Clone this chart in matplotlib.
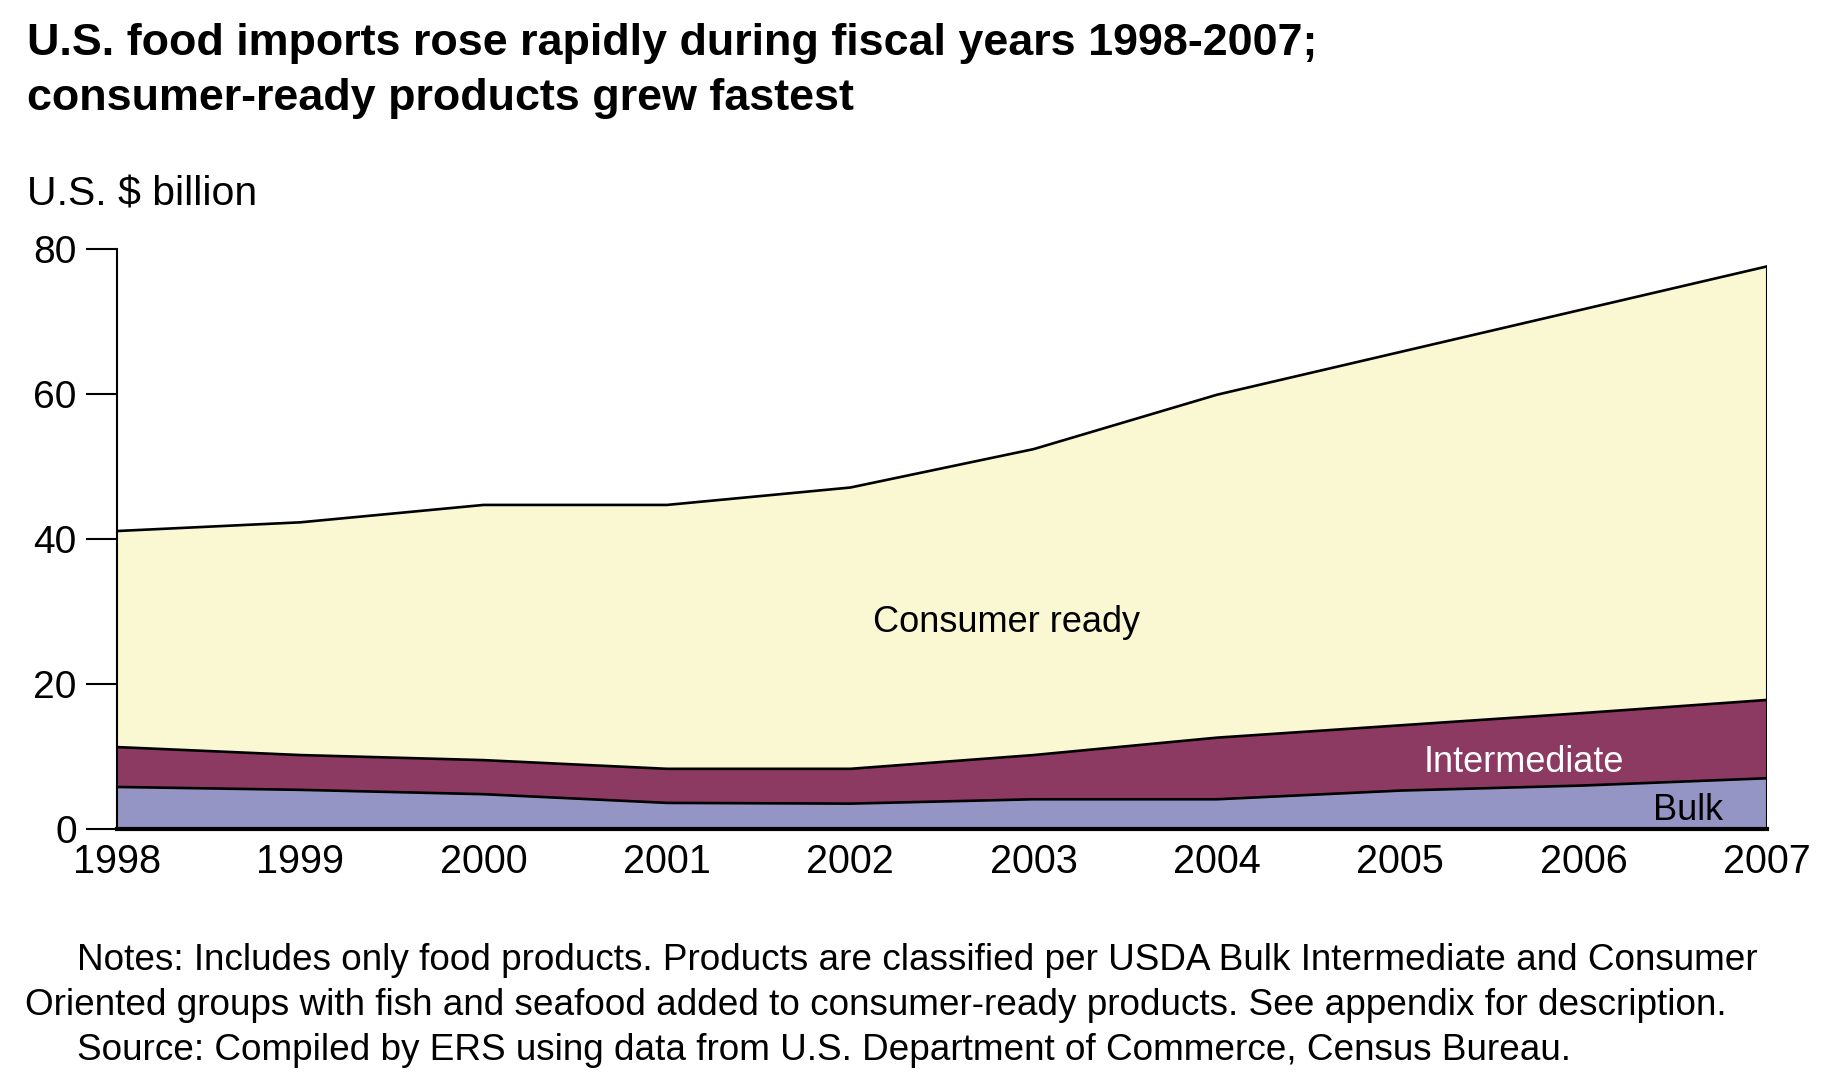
import numpy as np
import matplotlib
matplotlib.use("Agg")
import matplotlib.pyplot as plt

plt.rcParams['font.family'] = ['Liberation Sans', 'DejaVu Sans']

years = [1998, 1999, 2000, 2001, 2002, 2003, 2004, 2005, 2006, 2007]
bulk = [5.8, 5.4, 4.8, 3.6, 3.5, 4.1, 4.1, 5.3, 6.0, 7.0]
intermediate = [5.5, 4.8, 4.7, 4.7, 4.8, 6.1, 8.5, 9.0, 10.0, 10.8]
consumer_ready = [29.8, 32.1, 35.2, 36.4, 38.8, 42.2, 47.3, 51.5, 55.7, 59.8]
series_names = ["Bulk", "Intermediate", "Consumer ready"]
colors = ["#9595C5", "#8C3A62", "#FAF8D2"]
yticks = [0, 20, 40, 60, 80]

title_lines = ["U.S. food imports rose rapidly during fiscal years 1998-2007;",
               "consumer-ready products grew fastest"]
ylabel = "U.S. $ billion"
notes = ["Notes: Includes only food products. Products are classified per USDA Bulk Intermediate and Consumer",
         "Oriented groups with fish and seafood added to consumer-ready products. See appendix for description.",
         "Source: Compiled by ERS using data from U.S. Department of Commerce, Census Bureau."]

W, H = 1832, 1084
fig = plt.figure(figsize=(W / 100, H / 100), dpi=100)
ax = fig.add_axes([117 / W, 1 - 829 / H, (1767 - 117) / W, (829 - 249) / H])

x = np.array(years)
stack = np.vstack([bulk, intermediate, consumer_ready])
ax.stackplot(x, stack, colors=colors, linewidth=0)
cum = np.cumsum(stack, axis=0)
for row in cum:
    ax.plot(x, row, color="black", lw=1.9, solid_joinstyle="round", zorder=3)
ax.vlines(x[-1], 0, cum[-1][-1], color="black", lw=1.5, zorder=3)

ax.set_xlim(years[0], years[-1])
ax.set_ylim(0, 80)
for s in ["top", "right"]:
    ax.spines[s].set_visible(False)
ax.spines["left"].set_linewidth(1.5)
ax.spines["bottom"].set_linewidth(3)
ax.spines["bottom"].set_zorder(4)

ax.set_yticks(yticks)
ax.set_yticklabels([str(v) for v in yticks])
ax.tick_params(axis="y", direction="out", length=22, width=1.5, pad=7,
               labelsize=28, colors="black")
ax.set_xticks(years)
ax.set_xticklabels([str(y) for y in years])
ax.tick_params(axis="x", which="major", length=0, pad=10, labelsize=28.5)
ax.set_xticks(years[1:-1], minor=True)
ax.tick_params(axis="x", which="minor", direction="in", length=21.5,
               width=1.5, color="white")

# series labels
ax.text(2002.85, 27.2, series_names[2], ha="center", va="baseline",
        fontsize=26, color="black", zorder=5)
ax.text(2005.675, 7.86, series_names[1], ha="center", va="baseline",
        fontsize=26, color="white", zorder=5)
ax.text(2006.57, 1.24, series_names[0], ha="center", va="baseline",
        fontsize=26, color="black", zorder=5)

fig.text(27 / W, 1 - 55 / H, title_lines[0], fontsize=32.3, fontweight="bold",
         ha="left", va="baseline")
fig.text(27 / W, 1 - 110 / H, title_lines[1], fontsize=32.3, fontweight="bold",
         ha="left", va="baseline")
fig.text(27 / W, 1 - 205 / H, ylabel, fontsize=29.5, ha="left", va="baseline")

fig.text(77 / W, 1 - 970 / H, notes[0], fontsize=26.6, ha="left", va="baseline")
fig.text(25 / W, 1 - 1015 / H, notes[1], fontsize=26.6, ha="left", va="baseline")
fig.text(77 / W, 1 - 1060 / H, notes[2], fontsize=26.6, ha="left", va="baseline")

fig.savefig("out.png", dpi=100)
